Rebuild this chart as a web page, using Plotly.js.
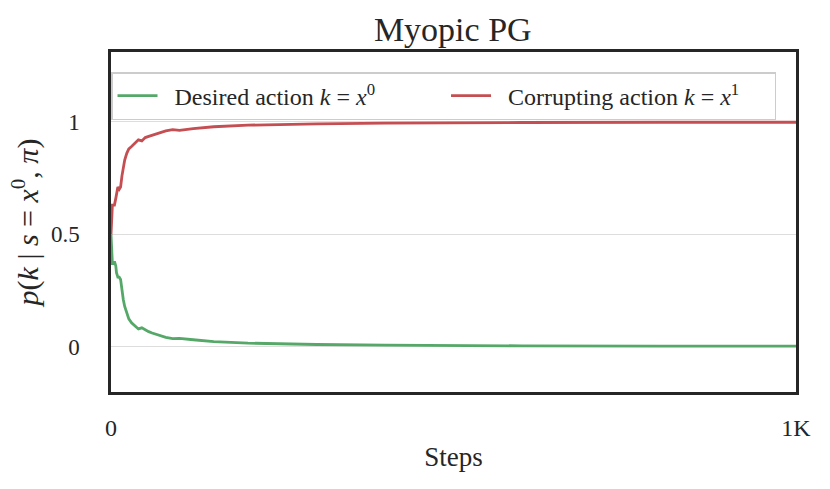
<!DOCTYPE html>
<html>
<head>
<meta charset="utf-8">
<script src="https://cdn.plot.ly/plotly-3.0.1.min.js"></script>
<style>
  html, body { margin: 0; padding: 0; background: #fff; }
  #chart { width: 830px; height: 489px; }
</style>
</head>
<body>
<div id="chart"></div>
<script>
const steps = [0, 1, 2, 3, 5, 7, 8, 10, 12, 14, 16, 18, 20, 23, 26, 30, 35, 40, 45, 50, 55, 60, 70, 80, 90, 100, 120, 150, 200, 250, 300, 400, 500, 600, 800, 1000];

const corrupting = [0.5, 0.6, 0.63, 0.63, 0.63, 0.66, 0.68, 0.71, 0.70, 0.71, 0.76, 0.80, 0.83, 0.86, 0.88, 0.89, 0.905, 0.92, 0.915, 0.93, 0.935, 0.94, 0.95, 0.96, 0.965, 0.962, 0.97, 0.978, 0.985, 0.989, 0.991, 0.994, 0.996, 0.997, 0.998, 0.998];

const desired = [0.5, 0.4, 0.37, 0.37, 0.38, 0.36, 0.33, 0.31, 0.31, 0.30, 0.25, 0.21, 0.18, 0.15, 0.125, 0.107, 0.095, 0.08, 0.085, 0.075, 0.068, 0.062, 0.052, 0.043, 0.037, 0.038, 0.032, 0.024, 0.017, 0.013, 0.011, 0.008, 0.006, 0.005, 0.004, 0.004];

const xTickVals = [0, 1000];
const xTickText = ['0', '1K'];
const yTickVals = [0, 0.5, 1];
const yTickText = ['0', '0.5', '1'];

const font = 'Liberation Serif, DejaVu Serif, serif';
const nb = n => '\u00A0'.repeat(n);

const traces = [
  {
    x: steps,
    y: desired,
    mode: 'lines',
    name: nb(2) + 'Desired action <i>k</i> = <i>x</i><sup>0</sup>' + nb(11),
    line: { width: 2.8, color: '#55A868' },
  },
  {
    x: steps,
    y: corrupting,
    mode: 'lines',
    name: nb(2) + 'Corrupting action <i>k</i> = <i>x</i><sup>1</sup>' + nb(5),
    line: { width: 2.8, color: '#C44E52' },
  },
];

const layout = {
  width: 830,
  height: 489,
  font: { family: font, color: '#262626', size: 24 },
  title: { text: 'Myopic PG', x: 0.5455, xanchor: 'center', y: 0.941, yanchor: 'middle', font: { size: 34, color: '#262626' } },
  margin: { l: 111, r: 34, t: 52, b: 97 },
  xaxis: {
    range: [0, 1000],
    tickvals: xTickVals,
    ticktext: xTickText,
    showgrid: false,
    zeroline: false,
    showline: true,
    mirror: true,
    linewidth: 2.5,
    linecolor: '#262626',
    ticks: '',
    ticklabelstandoff: 12,
    tickfont: { size: 24 },
    title: { text: 'Steps', font: { size: 27 }, standoff: 8 },
  },
  yaxis: {
    range: [-0.2, 1.31],
    tickvals: yTickVals,
    ticktext: yTickText,
    showgrid: true,
    gridcolor: '#dddddd',
    gridwidth: 1,
    zeroline: false,
    showline: true,
    mirror: true,
    linewidth: 2.5,
    linecolor: '#262626',
    ticks: '',
    ticklabelstandoff: 24,
    tickfont: { size: 23 },
    title: { text: '<i>p</i>(<i>k</i> | <i>s</i> = <i>x</i><sup>0</sup>, <i>π</i>)', font: { size: 30 }, standoff: 4 },
  },
  showlegend: true,
  legend: {
    orientation: 'h',
    x: 0,
    xanchor: 'left',
    y: 0.941,
    yanchor: 'top',
    bgcolor: 'rgba(255,255,255,0.8)',
    bordercolor: '#cccccc',
    borderwidth: 1.5,
    font: { size: 24 },
    itemwidth: 40,
  },
  plot_bgcolor: '#ffffff',
  paper_bgcolor: '#ffffff',
};

Plotly.newPlot('chart', traces, layout, { displayModeBar: false });
</script>
</body>
</html>
